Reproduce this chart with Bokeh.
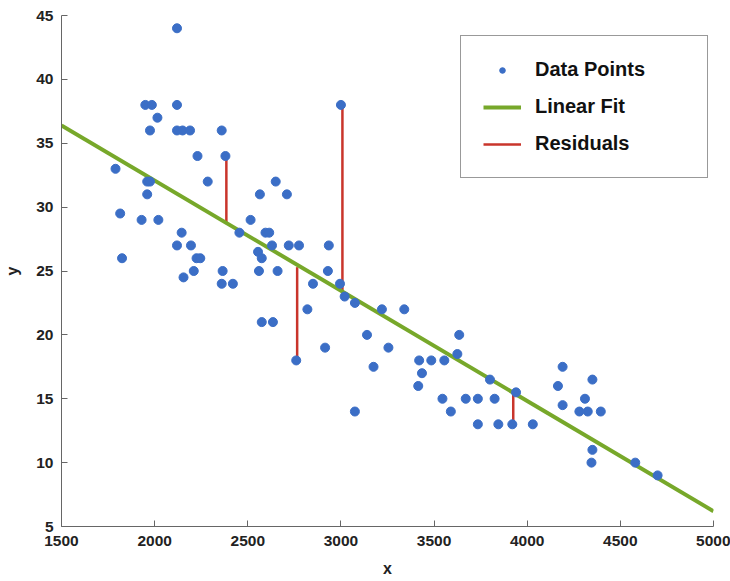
from bokeh.plotting import figure
from bokeh.models import (Range1d, FixedTicker, Legend, LegendItem)
from bokeh.embed import file_html
from bokeh.resources import INLINE

# ---- data ----
x_vals = [1790, 1815, 1825, 1930, 1950, 1985, 2015, 1975, 1960, 1975, 1960, 2020,
          2120, 2120, 2120, 2150, 2190, 2360, 2230, 2380, 2285, 2145, 2120, 2195,
          2225, 2245, 2210, 2155, 2365, 2360, 2420, 2455, 2515, 2565, 2650, 2710,
          2595, 2615, 2630, 2720, 2775, 2555, 2575, 2560, 2660, 2575, 2635, 2760,
          2820, 2850, 2935, 2930, 2995, 3000, 3020, 3075, 3220, 3340, 3140, 3635,
          2915, 3255, 3175, 3075, 3420, 3485, 3555, 3625, 3435, 3415, 3545, 3670,
          3735, 3825, 3590, 3800, 3940, 3735, 3845, 3920, 4030, 4190, 4165, 4190,
          4350, 4310, 4280, 4325, 4395, 4350, 4345, 4580, 4700]
y_vals = [33, 29.5, 26, 29, 38, 38, 37, 36, 32, 32, 31, 29,
          44, 38, 36, 36, 36, 36, 34, 34, 32, 28, 27, 27,
          26, 26, 25, 24.5, 25, 24, 24, 28, 29, 31, 32, 31,
          28, 28, 27, 27, 27, 26.5, 26, 25, 25, 21, 21, 18,
          22, 24, 27, 25, 24, 38, 23, 22.5, 22, 22, 20, 20,
          19, 19, 17.5, 14, 18, 18, 18, 18.5, 17, 16, 15, 15,
          15, 15, 14, 16.5, 15.5, 13, 13, 13, 13, 17.5, 16, 14.5,
          16.5, 15, 14, 14, 14, 11, 10, 10, 9]

fit_x = [1500, 5000]
fit_y = [36.4, 6.2]

resid_x = [2385, 3008, 2765, 3925]
resid_y_point = [34, 38, 18, 13]
resid_y_fit = [28.8, 23.3, 25.3, 15.5]

x_ticks = [1500, 2000, 2500, 3000, 3500, 4000, 4500, 5000]
y_ticks = [5, 10, 15, 20, 25, 30, 35, 40, 45]

FONT = "Liberation Sans"
BLUE = "#3b6ec6"
GREEN = "#77a82a"
RED = "#c9352b"

p = figure(width=730, height=581, output_backend="svg", toolbar_location=None,
           x_range=Range1d(1500, 5000), y_range=Range1d(5, 45),
           min_border_left=61, min_border_right=17, min_border_top=15,
           min_border_bottom=55)
p.frame_width = 652
p.frame_height = 511
p.outline_line_color = None
p.xgrid.visible = False
p.ygrid.visible = False
p.background_fill_color = "white"
p.border_fill_color = "white"

# residuals
r_res = p.segment(x0=resid_x, y0=resid_y_point, x1=resid_x, y1=resid_y_fit,
                  line_color=RED, line_width=2.5)
# fit line
r_fit = p.line(fit_x, fit_y, line_color=GREEN, line_width=4)
# points
r_pts = p.scatter(x_vals, y_vals, size=9, fill_color=BLUE, line_color=BLUE)

for ax in (p.xaxis[0], p.yaxis[0]):
    ax.axis_line_color = "#666666"
    ax.major_tick_line_color = "#666666"
    ax.major_tick_in = 6
    ax.major_tick_out = 0
    ax.minor_tick_line_color = None
    ax.major_label_text_font = FONT
    ax.major_label_text_font_style = "bold"
    ax.major_label_text_font_size = "15.5px"
    ax.major_label_text_color = "#222222"
    ax.axis_label_text_font = FONT
    ax.axis_label_text_font_style = "bold"
    ax.axis_label_text_font_size = "16px"
    ax.axis_label_text_color = "#222222"

p.xaxis.ticker = FixedTicker(ticks=x_ticks)
p.yaxis.ticker = FixedTicker(ticks=y_ticks)
p.xaxis.axis_label = "x"
p.yaxis.axis_label = "y"
p.xaxis.major_label_standoff = 9
p.yaxis.major_label_standoff = 8
p.xaxis.axis_label_standoff = 11
p.yaxis.axis_label_standoff = 12

legend = Legend(items=[
    LegendItem(label="Data Points", renderers=[r_pts], index=0),
    LegendItem(label="Linear Fit", renderers=[r_fit]),
    LegendItem(label="Residuals", renderers=[r_res]),
], location=(399, 348))
legend.label_text_font = FONT
legend.label_text_font_style = "bold"
legend.label_text_font_size = "20px"
legend.label_text_color = "#111111"
legend.border_line_color = "#333333"
legend.border_line_width = 1.5
legend.background_fill_alpha = 1
legend.padding = 22
legend.spacing = 14
legend.glyph_width = 38
legend.glyph_height = 14
legend.label_height = 22
legend.label_standoff = 14
legend.label_width = 150
legend.margin = 0
p.add_layout(legend, "center")

open("out.html", "w").write(file_html(p, INLINE))
